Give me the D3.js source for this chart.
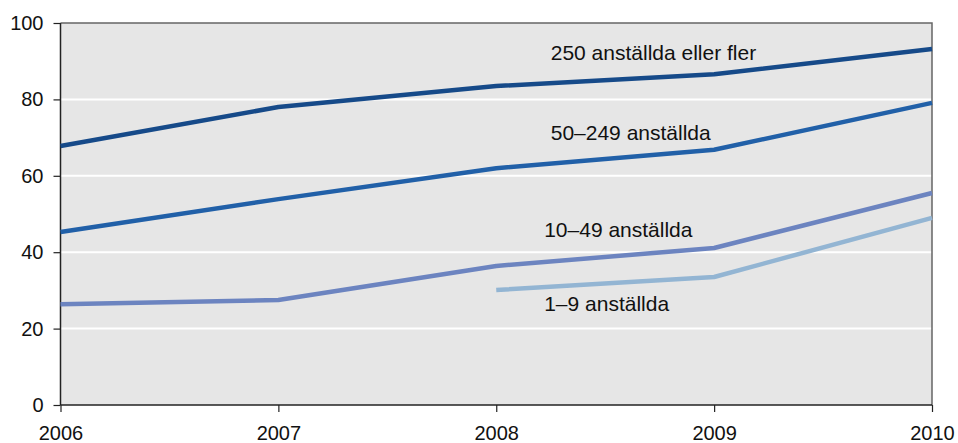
<!DOCTYPE html>
<html>
<head>
<meta charset="utf-8">
<script src="https://cdn.jsdelivr.net/npm/d3@7"></script>
<style>
  body { margin: 0; background: #fff; }
  text { font-family: "Liberation Sans", Arial, sans-serif; fill: #111; }
</style>
</head>
<body>
<div id="chart"></div>
<script>
// chart data
var years = [2006, 2007, 2008, 2009, 2010];
var yTicks = [0, 20, 40, 60, 80, 100];
var seriesNames = ["250 anställda eller fler", "50–249 anställda", "10–49 anställda", "1–9 anställda"];
var seriesColors = ["#164a89", "#2160a8", "#6c84c0", "#93b5d3"];
var big = [67.8, 78.0, 83.5, 86.6, 93.2];
var medium = [45.3, 53.9, 62.0, 66.8, 79.1];
var small = [26.4, 27.5, 36.4, 41.1, 55.5];
var micro = [null, null, 30.1, 33.5, 49.0];
// label anchors in data units (year, value)
var labelYears = [2008.25, 2008.25, 2008.22, 2008.22];
var labelValues = [90.3, 69.4, 44.0, 24.6];

// sizes
//---------------------------------------------------------------------------
var width = 958, height = 443;
var margin = {top: 23, right: 26, bottom: 38, left: 60.5};

var svg = d3.select("#chart").append("svg")
    .attr("width", width)
    .attr("height", height);

var x = d3.scaleLinear()
    .domain([2006, 2010])
    .range([margin.left, width - margin.right]);
var y = d3.scaleLinear()
    .domain([0, 100])
    .range([height - margin.bottom, margin.top]);

// plot background
svg.append("rect")
    .attr("x", x(2006))
    .attr("y", y(100))
    .attr("width", x(2010) - x(2006))
    .attr("height", y(0) - y(100))
    .attr("fill", "#e6e6e6");

// white grid lines
svg.selectAll(".grid")
    .data(yTicks.filter(function(d) { return d > 0 && d < 100; }))
    .enter().append("line")
    .attr("class", "grid")
    .attr("x1", x(2006)).attr("x2", x(2010))
    .attr("y1", function(d) { return y(d); })
    .attr("y2", function(d) { return y(d); })
    .attr("stroke", "#fff")
    .attr("stroke-width", 2);

// top and right border
svg.append("path")
    .attr("d", "M" + x(2006) + "," + y(100) + "H" + x(2010) + "V" + y(0))
    .attr("fill", "none")
    .attr("stroke", "#666")
    .attr("stroke-width", 1.5);

// axes
var yAxis = d3.axisLeft(y).tickValues(yTicks).tickSize(7).tickPadding(10);
var xAxis = d3.axisBottom(x).tickValues(years).tickFormat(d3.format("d")).tickSize(7).tickPadding(14);

var gy = svg.append("g")
    .attr("transform", "translate(" + x(2006) + ",0)")
    .call(yAxis);
var gx = svg.append("g")
    .attr("transform", "translate(0," + y(0) + ")")
    .call(xAxis);

[gx, gy].forEach(function(g) {
    g.select(".domain").attr("stroke", "#222").attr("stroke-width", 1.5);
    g.selectAll(".tick line").attr("stroke", "#222").attr("stroke-width", 1.2);
    g.selectAll(".tick text")
        .attr("font-family", "Liberation Sans, Arial, sans-serif")
        .attr("font-size", 20)
        .attr("fill", "#111");
});
gy.select(".domain").attr("d", "M0," + y(100) + "V" + y(0));
gx.select(".domain").attr("d", "M" + x(2006) + ",0H" + x(2010));

// lines
//---------------------------------------------------------------------------
var allSeries = [big, medium, small, micro];
var line = d3.line()
    .defined(function(d) { return d != null; })
    .x(function(d, i) { return x(years[i]); })
    .y(function(d) { return y(d); });

svg.selectAll(".series")
    .data(allSeries)
    .enter().append("path")
    .attr("class", "series")
    .attr("d", line)
    .attr("fill", "none")
    .attr("stroke", function(d, i) { return seriesColors[i]; })
    .attr("stroke-width", 4.5)
    .attr("stroke-linejoin", "round");

// labels
svg.selectAll(".label")
    .data(seriesNames)
    .enter().append("text")
    .attr("class", "label")
    .attr("x", function(d, i) { return x(labelYears[i]); })
    .attr("y", function(d, i) { return y(labelValues[i]); })
    .attr("font-size", 21)
    .text(function(d) { return d; });
</script>
</body>
</html>
